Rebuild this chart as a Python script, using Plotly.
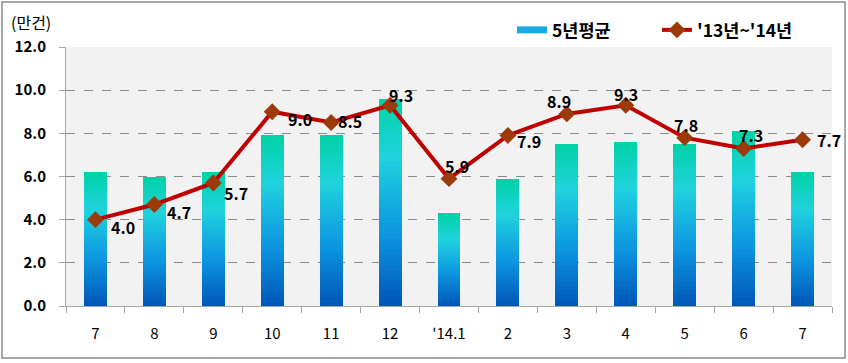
import plotly.graph_objects as go

categories = ["7", "8", "9", "10", "11", "12", "'14.1", "2", "3", "4", "5", "6", "7"]
avg5 = [6.2, 6.0, 6.2, 7.9, 7.9, 9.6, 4.3, 5.9, 7.5, 7.6, 7.5, 8.1, 6.2]
y1314 = [4.0, 4.7, 5.7, 9.0, 8.5, 9.3, 5.9, 7.9, 8.9, 9.3, 7.8, 7.3, 7.7]
yticks = [0, 2, 4, 6, 8, 10, 12]

# label offsets (px) relative to each marker: styling only
lab_dx = [28, 25, 23, 28, 19, 11, 8, 21, -8, 0, 1, 7, 26]
lab_dy = [-7, -7, -10, -7, 2, 10, 13, -6, 13, 11, 13, 13, 0]

FONT = "Noto Sans CJK KR"
W, H = 848, 363
ML, MR, MT, MB = 66, 16, 47, 57
PW, PH = W - ML - MR, H - MT - MB

stops = [(0.0, (0, 86, 184)), (0.35, (12, 150, 224)), (0.72, (32, 210, 222)), (1.0, (0, 210, 164))]

def grad(t):
    for (a, ca), (b, cb) in zip(stops[:-1], stops[1:]):
        if a <= t <= b:
            f = (t - a) / (b - a)
            c = [round(ca[k] + (cb[k] - ca[k]) * f) for k in range(3)]
            return f"rgb({c[0]},{c[1]},{c[2]})"
    return "rgb(0,210,164)"

x = list(range(len(categories)))
N = 40
fig = go.Figure()
# legend-only entry for the bars (flat swatch like the original)
fig.add_trace(go.Scatter(x=[None], y=[None], mode="lines", name="5년평균",
                         line=dict(color="#18A8E4", width=7), legendgroup="avg"))
for i in range(N):
    fig.add_trace(go.Bar(
        x=x, y=[v / N for v in avg5], width=0.39,
        marker=dict(color=grad((i + 0.5) / N), line=dict(width=0)),
        name="5년평균", showlegend=False, legendgroup="avg",
        hoverinfo="skip",
    ))

fig.add_trace(go.Scatter(
    x=x, y=y1314, mode="lines+markers", name="'13년~'14년",
    line=dict(color="#C00000", width=4),
    marker=dict(symbol="diamond", size=13, color="#9C3A0A"),
    cliponaxis=False,
))

annotations = [dict(x=xi, y=v, xref="x", yref="y", text=f"{v:.1f}", showarrow=False,
                    xanchor="center", yanchor="middle", xshift=dx, yshift=dy,
                    font=dict(family=FONT, size=16, color="#000000", weight="bold"))
               for xi, v, dx, dy in zip(x, y1314, lab_dx, lab_dy)]
annotations.append(dict(text="(만건)", xref="paper", yref="paper",
                        x=(9 - ML) / PW, y=1 + (MT - 22) / PH, xanchor="left", yanchor="middle",
                        showarrow=False, font=dict(family=FONT, size=16, color="#000000")))

fig.update_layout(
    width=W, height=H, barmode="stack", bargap=0,
    margin=dict(l=ML, r=MR, t=MT, b=MB, autoexpand=False),
    paper_bgcolor="white", plot_bgcolor="#F2F2F2",
    font=dict(family=FONT, size=15, color="#000000"),
    showlegend=True,
    legend=dict(orientation="h", x=(512 - ML) / PW, y=1 + (MT - 12) / PH,
                xanchor="left", yanchor="top", bgcolor="rgba(0,0,0,0)",
                font=dict(family=FONT, size=17.5, color="#000000", weight="bold"),
                traceorder="normal", itemwidth=30, entrywidth=100),
    xaxis=dict(range=[-0.5, len(categories) - 0.5], tickmode="array", tickvals=x,
               ticktext=categories, ticks="", showline=True, linecolor="#A6A6A6",
               linewidth=1, showgrid=False, zeroline=False, ticklabelstandoff=14,
               tickfont=dict(family=FONT, size=15),
               minor=dict(tickmode="array", tickvals=[i - 0.5 for i in range(len(categories) + 1)],
                          ticks="outside", ticklen=6, tickcolor="#A6A6A6", showgrid=False)),
    yaxis=dict(range=[0, 12], tickmode="array", tickvals=yticks,
               ticktext=[f"{v:.1f}" for v in yticks], ticks="outside", ticklen=6,
               tickcolor="#A6A6A6", showline=True, linecolor="#A6A6A6", linewidth=1,
               showgrid=True, gridcolor="#8C8C8C", griddash="dash", gridwidth=1,
               zeroline=False, ticklabelstandoff=10,
               tickfont=dict(family=FONT, size=15, weight="bold")),
    annotations=annotations,
    shapes=[dict(type="rect", xref="paper", yref="paper",
                 x0=(2 - ML) / PW, x1=(845 - ML) / PW,
                 y0=-(358 - (MT + PH)) / PH, y1=1 + (MT - 2) / PH,
                 line=dict(color="#8C8C8C", width=1.5), layer="below")],
)

fig.write_html("out.html", config={"displayModeBar": False},
               post_script="document.body.style.margin='0';document.body.style.overflow='hidden';")
